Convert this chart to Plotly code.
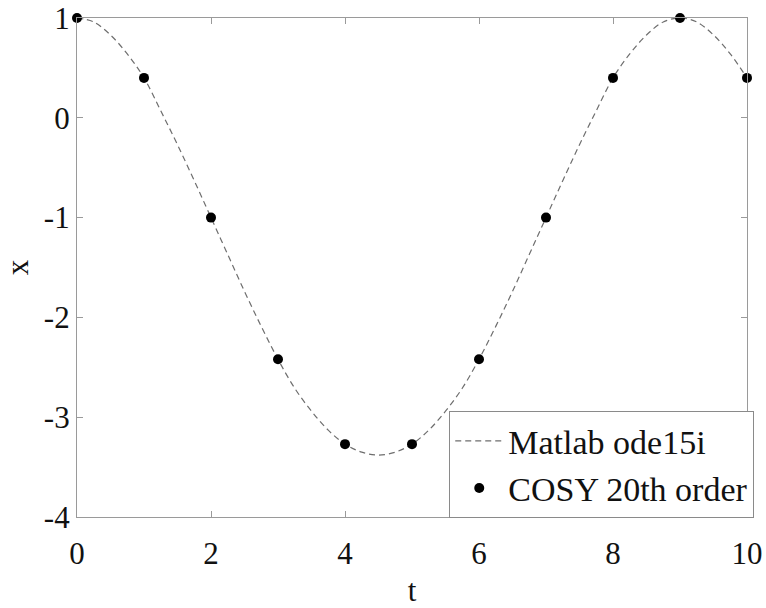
import plotly.graph_objects as go

# Matlab ode15i curve
t_line = [0.0, 0.25, 0.5, 0.75, 1.0, 1.25, 1.5, 1.75, 2.0, 2.25, 2.5, 2.75, 3.0,
          3.25, 3.5, 3.75, 4.0, 4.25, 4.5, 4.75, 5.0, 5.25, 5.5, 5.75, 6.0,
          6.25, 6.5, 6.75, 7.0, 7.25, 7.5, 7.75, 8.0, 8.25, 8.5, 8.75, 9.0,
          9.25, 9.5, 9.75, 10.0]
x_line = [1.0, 0.96, 0.83, 0.64, 0.40, 0.07, -0.27, -0.63, -1.00, -1.37, -1.74,
          -2.09, -2.42, -2.71, -2.94, -3.13, -3.27, -3.35, -3.38, -3.35, -3.27,
          -3.13, -2.94, -2.71, -2.42, -2.09, -1.74, -1.37, -1.00, -0.63, -0.27,
          0.07, 0.40, 0.64, 0.83, 0.96, 1.0, 0.96, 0.83, 0.64, 0.40]

# COSY 20th order points
t_pts = [0, 1, 2, 3, 4, 5, 6, 7, 8, 9, 10]
x_pts = [1.0, 0.40, -1.00, -2.42, -3.27, -3.27, -2.42, -1.00, 0.40, 1.0, 0.40]

x_ticks = [0, 2, 4, 6, 8, 10]
y_ticks = [1, 0, -1, -2, -3, -4]

FONT = "Liberation Serif"

fig = go.Figure()
fig.add_trace(go.Scatter(
    x=t_line, y=x_line, mode="lines", name="Matlab ode15i",
    line=dict(color="#6e6e6e", width=1.2, dash="6px,4px", shape="spline"),
    cliponaxis=False,
))
fig.add_trace(go.Scatter(
    x=t_pts, y=x_pts, mode="markers", name="COSY 20th order",
    marker=dict(color="black", size=10),
    cliponaxis=False,
))

axis_common = dict(
    showgrid=False, zeroline=False, showline=True, linecolor="#9a9a9a",
    linewidth=1.2, mirror="ticks", ticks="inside", ticklen=6,
    tickcolor="#9a9a9a", tickwidth=1.2, automargin=False,
    tickfont=dict(family=FONT, size=31, color="#111"),
)

fig.update_layout(
    width=766, height=608,
    margin=dict(l=77, r=19, t=18, b=91),
    plot_bgcolor="white", paper_bgcolor="white",
    font=dict(family=FONT, color="#111"),
    xaxis=dict(range=[0, 10], tickvals=x_ticks,
               ticktext=[str(v) for v in x_ticks],
               ticklabelstandoff=9,
               title=dict(text="t", font=dict(family=FONT, size=31), standoff=10),
               **axis_common),
    yaxis=dict(range=[-4, 1], tickvals=y_ticks,
               ticktext=[str(v) for v in y_ticks],
               title=dict(text="x", font=dict(family=FONT, size=31), standoff=12),
               **axis_common),
    legend=dict(
        x=1.0105, y=-0.002, xanchor="right", yanchor="bottom",
        bordercolor="#8a8a8a", borderwidth=1.2, bgcolor="white",
        font=dict(family=FONT, size=34, color="#111"),
        itemwidth=48,
    ),
    showlegend=True,
)

fig.write_html("out.html")
